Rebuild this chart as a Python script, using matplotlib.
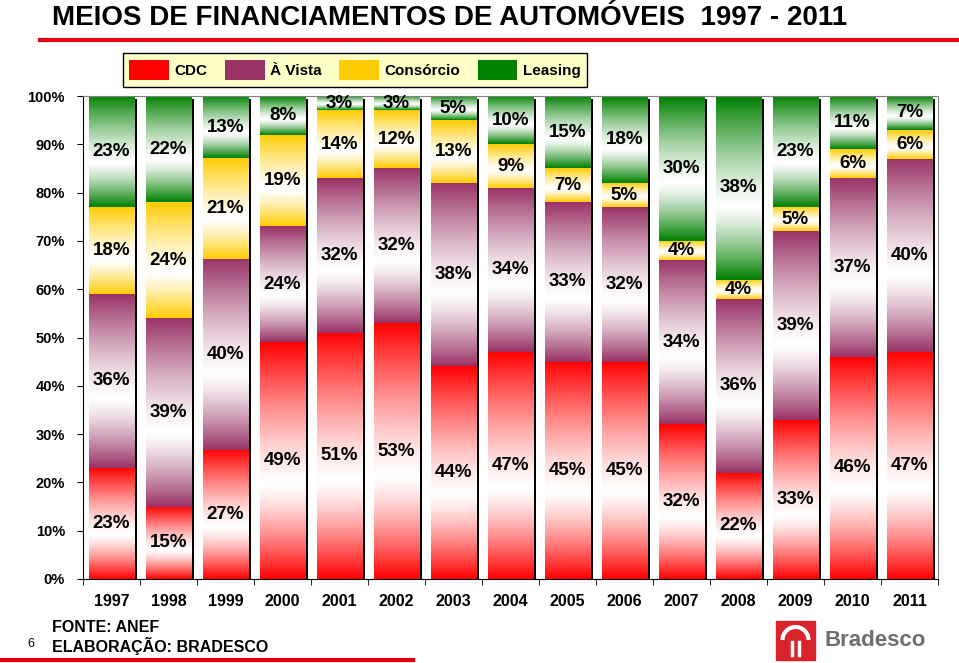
import numpy as np
import matplotlib.pyplot as plt
from matplotlib.patches import Patch, Rectangle, Arc
from matplotlib.lines import Line2D
from matplotlib.colors import to_rgb

plt.rcParams['font.family'] = ['Liberation Sans', 'DejaVu Sans']

anos = ["1997", "1998", "1999", "2000", "2001", "2002", "2003", "2004",
        "2005", "2006", "2007", "2008", "2009", "2010", "2011"]
cdc = [23, 15, 27, 49, 51, 53, 44, 47, 45, 45, 32, 22, 33, 46, 47]
a_vista = [36, 39, 40, 24, 32, 32, 38, 34, 33, 32, 34, 36, 39, 37, 40]
consorcio = [18, 24, 21, 19, 14, 12, 13, 9, 7, 5, 4, 4, 5, 6, 6]
leasing = [23, 22, 13, 8, 3, 3, 5, 10, 15, 18, 30, 38, 23, 11, 7]

series = ["CDC", "À Vista", "Consórcio", "Leasing"]
cores = ["#ff0000", "#993366", "#ffcc00", "#008000"]

W, H = 959, 663
def fx(x): return x / W
def fy(y): return 1 - y / H

fig = plt.figure(figsize=(W / 100, H / 100), dpi=100)
ax = fig.add_axes([fx(83), fy(579), (938 - 83) / W, (579 - 96) / H])

x = np.arange(len(anos))
dados = np.array([cdc, a_vista, consorcio, leasing], dtype=float)
pct = dados / dados.sum(axis=0) * 100
largura = 0.79

# sombra preta a direita das barras
ax.bar(x + 0.05, np.full(len(x), 99.4), largura, color="black", zorder=1)

def gradiente(cor, n=200, c=0.4, p=1.3):
    t = np.linspace(0, 1, n)
    m = np.where(t < c, (c - t) / c, (t - c) / (1 - c)) ** p
    rgb = np.array(to_rgb(cor))
    img = (1 - m)[:, None] * np.ones(3) + m[:, None] * rgb
    return img[:, None, :]

base = np.zeros(len(x))
for i, (nome, cor) in enumerate(zip(series, cores)):
    barras = ax.bar(x, pct[i], largura, bottom=base, color="none", zorder=2)
    img = gradiente(cor)
    for j, r in enumerate(barras):
        x0, y0 = r.get_x(), r.get_y()
        ax.imshow(img, extent=[x0, x0 + r.get_width(), y0, y0 + r.get_height()],
                  origin="lower", aspect="auto", interpolation="bilinear", zorder=2)
        ax.text(x0 + r.get_width() / 2, y0 + r.get_height() / 2, f"{int(dados[i, j])}%",
                ha="center", va="center", fontsize=13.5, fontweight="bold", zorder=3)
    base += pct[i]

ax.set_xlim(-0.5, len(x) - 0.5)
ax.set_ylim(0, 100)
ax.set_xticks(x, anos, fontsize=11.5, fontweight="bold")
ax.set_xticks(np.arange(-0.5, len(x)), minor=True)
ax.tick_params(axis="x", which="major", length=0, pad=11)
ax.tick_params(axis="x", which="minor", length=4, direction="out")
ax.set_yticks(np.arange(0, 101, 10), [f"{v}%" for v in range(0, 101, 10)],
              fontsize=10.5, fontweight="bold")
ax.tick_params(axis="y", length=4, direction="out", pad=9)
for s in ["top", "right"]:
    ax.spines[s].set_color("#808080")
for s in ["left", "bottom"]:
    ax.spines[s].set_color("black")

# titulo e linhas vermelhas
fig.text(fx(52), fy(18), "MEIOS DE FINANCIAMENTOS DE AUTOMÓVEIS  1997 - 2011",
         fontsize=20, fontweight="bold", ha="left", va="center")
fig.add_artist(Line2D([fx(40), 1], [fy(39.5), fy(39.5)], color="#e3000f", lw=3))
fig.add_artist(Line2D([0, fx(413)], [fy(660), fy(660)], color="#e3000f", lw=3))

# legenda
handles = [Patch(facecolor=c, edgecolor="none") for c in cores]
leg = fig.legend(handles, series, ncol=4, loc="center",
                 bbox_to_anchor=(fx(355), fy(70)), frameon=True, fancybox=False,
                 facecolor="#ffffc8", edgecolor="black", framealpha=1,
                 prop={"weight": "bold", "size": 11}, handlelength=2.6,
                 handleheight=1.6, handletextpad=0.35, columnspacing=1.15,
                 borderpad=0.45)

# rodape
fig.text(fx(52), fy(627), "FONTE: ANEF", fontsize=11.5, fontweight="bold", va="center")
fig.text(fx(52), fy(646), "ELABORAÇÃO: BRADESCO", fontsize=11.5, fontweight="bold", va="center")
fig.text(fx(27), fy(644), "6", fontsize=9, va="center")

# logo Bradesco
fig.add_artist(Rectangle((fx(776), fy(660)), 39 / W, 39 / H, color="#d8232a",
                         transform=fig.transFigure))
fig.add_artist(Arc((fx(795.5), fy(640)), 26 / W, 26 / H, theta1=0, theta2=180,
                   color="white", lw=3, transform=fig.transFigure))
fig.add_artist(Line2D([fx(792), fx(792)], [fy(642), fy(655)], color="white", lw=2.5))
fig.add_artist(Line2D([fx(799), fx(799)], [fy(642), fy(655)], color="white", lw=2.5))
fig.text(fx(824), fy(640), "Bradesco", fontsize=16, fontweight="bold",
         color="#6d6e70", va="center")

fig.savefig("out.png", dpi=100)
